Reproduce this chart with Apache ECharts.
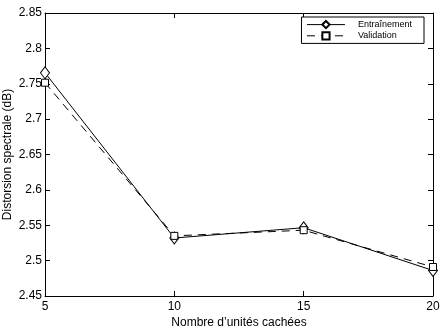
<!DOCTYPE html>
<html><head><meta charset="utf-8">
<script src="https://cdn.jsdelivr.net/npm/echarts@6/dist/echarts.min.js"></script>
<style>html,body{margin:0;padding:0;background:#fff}#c{width:445px;height:332px}</style>
</head><body><div id="c"></div>
<script>
var hiddenUnits = [5, 10, 15, 20];
var trainValues = [2.7655, 2.532, 2.5465, 2.486];
var validValues = [2.7515, 2.535, 2.543, 2.491];
var yTicks = [2.45, 2.5, 2.55, 2.6, 2.65, 2.7, 2.75, 2.8, 2.85];
var seriesNames = ['Entraînement', 'Validation'];

var font = 'Liberation Sans, Arial, Helvetica, sans-serif';
function pairs(v){ return hiddenUnits.map(function(x,i){return [x, v[i]];}); }
var chart = echarts.init(document.getElementById('c'), null, {renderer:'canvas'});
var axisLine = {show:true, lineStyle:{color:'#000', width:1}};
var tick = {show:true, inside:true, length:5, lineStyle:{color:'#000', width:1}};
chart.setOption({
  animation:false,
  backgroundColor:'#fff',
  grid:{left:45, right:12, top:13, bottom:36, show:false, containLabel:false, outerBoundsMode:'none'},
  legend:{
    right:21, top:17, orient:'vertical', itemWidth:38, itemHeight:9, itemGap:2,
    padding:[3,12,3,5], borderColor:'#000', borderWidth:1, borderRadius:0, backgroundColor:'#fff',
    textStyle:{fontFamily:font, fontSize:9, color:'#000', padding:[0,0,0,8]},
    lineStyle:{width:1},
    data:seriesNames
  },
  xAxis:[{
    type:'value', min:5, max:20, interval:5,
    name:'Nombre d\u2019unités cachées', nameLocation:'middle', nameGap:21, nameMoveOverlap:false,
    nameTextStyle:{fontFamily:font, fontSize:12, color:'#000'},
    axisLine:axisLine, axisTick:tick, splitLine:{show:false},
    axisLabel:{fontFamily:font, fontSize:12, color:'#000', margin:5}
  },{
    type:'value', position:'top', min:5, max:20, interval:5,
    axisLine:axisLine, axisTick:tick, splitLine:{show:false}, axisLabel:{show:false}
  }],
  yAxis:[{
    type:'value', min:2.45, max:2.85, interval:0.05,
    name:'Distorsion spectrale (dB)', nameLocation:'middle', nameGap:31, nameMoveOverlap:false,
    nameTextStyle:{fontFamily:font, fontSize:12, color:'#000'},
    axisLine:axisLine, axisTick:tick, splitLine:{show:false},
    axisLabel:{fontFamily:font, fontSize:12, color:'#000', margin:3,
      formatter:function(v){ var r=Math.round(v*100)/100; return yTicks.indexOf(r)>=0 ? String(r) : ''; }}
  },{
    type:'value', position:'right', min:2.45, max:2.85, interval:0.05,
    axisLine:axisLine, axisTick:tick, splitLine:{show:false}, axisLabel:{show:false}
  }],
  series:[{
    name:seriesNames[0], type:'line', data:pairs(trainValues),
    symbol:'diamond', symbolSize:[9,12], showAllSymbol:true,
    lineStyle:{color:'#000', width:1, type:'solid'},
    itemStyle:{color:'#fff', borderColor:'#000', borderWidth:1}
  },{
    name:seriesNames[1], type:'line', data:pairs(validValues),
    symbol:'rect', symbolSize:7, showAllSymbol:true,
    lineStyle:{color:'#000', width:1, type:[8,6]},
    itemStyle:{color:'#fff', borderColor:'#000', borderWidth:1}
  }]
});
</script></body></html>
